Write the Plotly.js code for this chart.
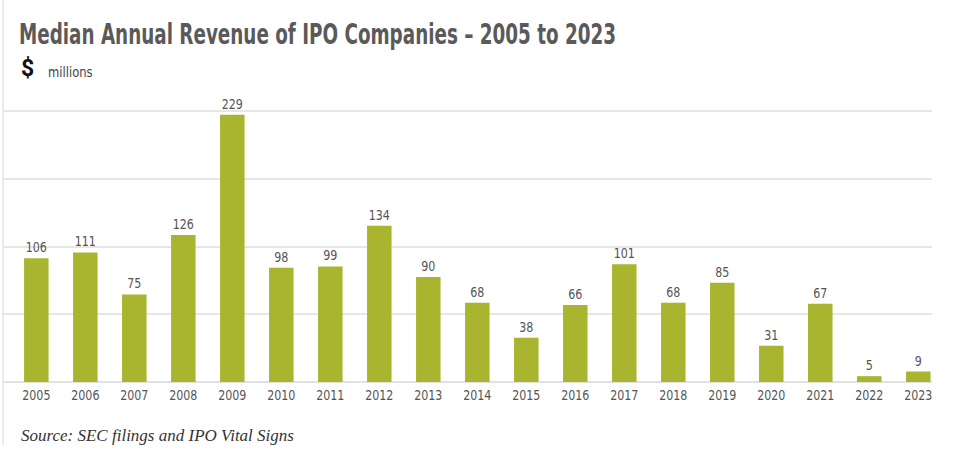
<!DOCTYPE html>
<html>
<head>
<meta charset="utf-8">
<script src="https://cdn.plot.ly/plotly-3.0.1.min.js"></script>
<style>
html,body{margin:0;padding:0;background:#fff;}
#chart{width:960px;height:468px;}
</style>
</head>
<body>
<div id="chart"></div>
<script>
const years = ['2005','2006','2007','2008','2009','2010','2011','2012','2013','2014','2015','2016','2017','2018','2019','2020','2021','2022','2023'];
const revenue = [106,111,75,126,229,98,99,134,90,68,38,66,101,68,85,31,67,5,9];
const titleText = 'Median Annual Revenue of IPO Companies – 2005 to 2023';
const sourceText = 'Source: SEC filings and IPO Vital Signs';

const narrow = '"Liberation Sans Narrow", "Noto Sans Condensed", "DejaVu Sans Condensed", Roboto, sans-serif';

const trace = {
  type: 'bar',
  x: years,
  y: revenue,
  marker: {color: '#a9b52e'},
  width: 0.5,
  text: revenue.map(String),
  textposition: 'outside',
  textfont: {family: narrow, size: 14, color: '#555555'},
  constraintext: 'none',
  cliponaxis: false,
  hoverinfo: 'x+y'
};

const layout = {
  width: 960,
  height: 468,
  margin: {l: 3, r: 28, t: 100, b: 86},
  paper_bgcolor: '#ffffff',
  plot_bgcolor: '#ffffff',
  showlegend: false,
  xaxis: {
    type: 'category',
    range: [-0.68, 18.28],
    showgrid: false,
    ticks: '',
    ticklabelstandoff: 3,
    tickfont: {family: narrow, size: 14, color: '#555555'},
    showline: false,
    fixedrange: true
  },
  yaxis: {
    range: [0, 241.7],
    dtick: 58,
    tick0: 0,
    showticklabels: false,
    gridcolor: '#e6e6e6',
    gridwidth: 2,
    zeroline: true,
    zerolinecolor: '#e2e2e2',
    zerolinewidth: 2,
    fixedrange: true
  },
  shapes: [
    {type: 'line', xref: 'paper', yref: 'paper', x0: 0, x1: 0, y0: -0.223, y1: 1.36,
     line: {color: '#e4e4e4', width: 1.5}}
  ],
  annotations: [
    {text: '<b>' + titleText + '</b>', xref: 'paper', yref: 'paper',
     x: 0.0151, y: 1.234, xanchor: 'left', yanchor: 'middle', showarrow: false,
     font: {family: '"Noto Sans Condensed", "DejaVu Sans Condensed", Roboto, sans-serif', size: 28, color: '#5a5a5a'}},
    {text: '<b>$</b>', xref: 'paper', yref: 'paper', x: 0.017, y: 1.113, xanchor: 'left', yanchor: 'middle',
     showarrow: false, font: {family: 'Roboto, sans-serif', size: 23, color: '#111111'}},
    {text: 'millions', xref: 'paper', yref: 'paper', x: 0.046, y: 1.10, xanchor: 'left', yanchor: 'middle',
     showarrow: false, font: {family: narrow, size: 14, color: '#444444'}},
    {text: '<i>' + sourceText + '</i>', xref: 'paper', yref: 'paper',
     x: 0.017, y: -0.15, xanchor: 'left', yanchor: 'top', showarrow: false,
     font: {family: '"Liberation Serif", "DejaVu Serif", serif', size: 17, color: '#333333'}}
  ]
};

function squeeze(t, targetWidth, keepLeft) {
  const bb0 = t.getBBox();
  t.setAttribute('textLength', String(targetWidth));
  t.setAttribute('lengthAdjust', 'spacingAndGlyphs');
  if (keepLeft) {
    const bb1 = t.getBBox();
    const x = parseFloat(t.getAttribute('x') || '0');
    t.setAttribute('x', String(x + (bb0.x - bb1.x)));
  }
}

Plotly.newPlot('chart', [trace], layout, {displayModeBar: false, staticPlot: true}).then(function(gd){
  gd.querySelectorAll('text.annotation-text').forEach(function(t){
    const s = t.textContent;
    if (s.indexOf('Median') === 0) squeeze(t, 597, true);
    else if (s === 'millions') squeeze(t, t.getComputedTextLength() * 0.92, true);
  });
  gd.querySelectorAll('.xtick text, .bartext').forEach(function(t){
    squeeze(t, t.getComputedTextLength() * 0.88, false);
  });
});
</script>
</body>
</html>
